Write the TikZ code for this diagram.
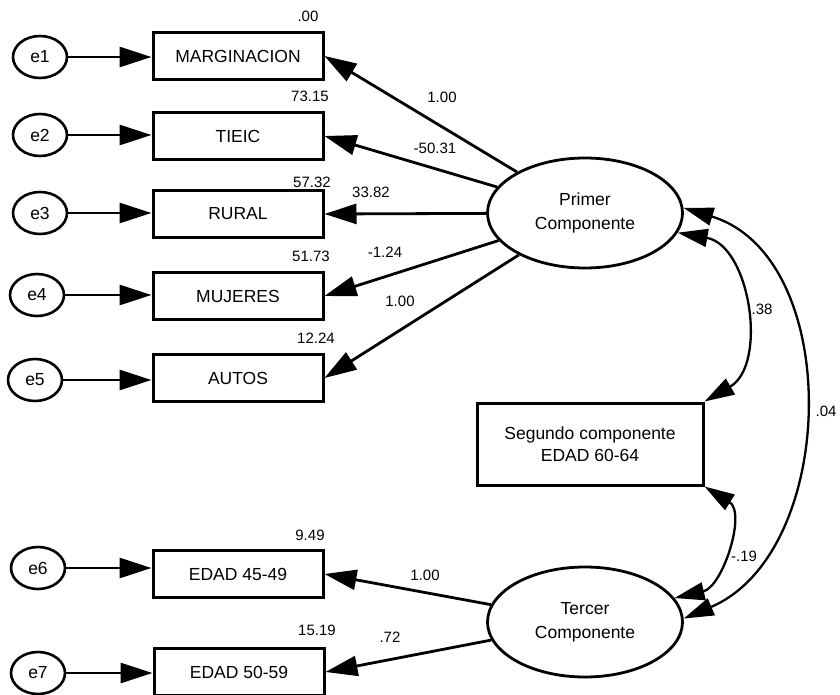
\documentclass[tikz,border=0pt]{standalone}
\usepackage{fontspec}
\setmainfont{Liberation Sans}
\usetikzlibrary{arrows.meta,shapes.geometric}

\begin{document}
\begin{tikzpicture}[x=1pt, y=1pt,
  every node/.style={font=\fontsize{17.5}{22}\selectfont},
  errnode/.style={draw, ellipse, line width=2.6pt, minimum width=54pt, minimum height=42pt, inner sep=0pt},
  obsbox/.style={draw, rectangle, line width=3pt, minimum width=170pt, minimum height=47pt},
  latent/.style={draw, ellipse, line width=2.8pt, minimum width=195pt, minimum height=110pt, align=center, font=\fontsize{17.5}{24}\selectfont},
  coef/.style={font=\fontsize{15}{18}\selectfont},
  load/.style={line width=2.8pt, -{Triangle[length=32pt, width=20pt]}},
  corr/.style={line width=2.3pt, {Triangle[length=30pt, width=18pt]}-{Triangle[length=30pt, width=18pt]}}
]

\useasboundingbox (0,0) rectangle (840,-695);

% Define error terms
\node[errnode] (e1) at (40,-57) {e1};
\node[errnode] (e2) at (40,-135) {e2};
\node[errnode] (e3) at (40,-213) {e3};
\node[errnode] (e4) at (37,-295) {e4};
\node[errnode] (e5) at (35,-380) {e5};
\node[errnode] (e6) at (38,-568) {e6};
\node[errnode] (e7) at (38,-673) {e7};

% Define boxes
\node[obsbox] (marg) at (238,-56) {MARGINACION};
\node[obsbox] (tieic) at (238,-136) {TIEIC};
\node[obsbox] (rural) at (238,-214) {RURAL};
\node[obsbox] (muj) at (238,-296) {MUJERES};
\node[obsbox] (autos) at (238,-378) {AUTOS};
\node[obsbox] (edad1) at (238,-574) {EDAD 45-49};
\node[obsbox] (edad2) at (239,-672) {EDAD 50-59};

% Define components
\node[latent] (primer) at (585,-213) {Primer\\Componente};
\node[obsbox, minimum width=226pt, minimum height=82pt, align=center] (segundo) at (590,-444) {Segundo componente\\EDAD 60-64};
\node[latent] (tercer) at (585,-622) {Tercer\\Componente};

% Draw arrows
\draw[load] (e1) -- (e1 -| marg.west);
\draw[load] (e2) -- (e2 -| tieic.west);
\draw[load] (e3) -- (e3 -| rural.west);
\draw[load] (e4) -- (e4 -| muj.west);
\draw[load] (e5) -- (e5 -| autos.west);
\draw[load] (e6) -- (e6 -| edad1.west);
\draw[load] (e7) -- (e7 -| edad2.west);

\draw[load] (primer) -- (marg.east);
\draw[load] (primer) -- (tieic.east);
\draw[load] (primer) -- (rural.east);
\draw[load] (primer) -- (muj.east);
\draw[load] (primer) -- (autos.east);
\draw[load] (tercer) -- (edad1.east);
\draw[load] (tercer) -- (edad2.east);

% Correlations
\draw[corr] (primer.-12) to[out=-10, in=30, looseness=1.1] (segundo.north east);
\draw[corr] (segundo.south east) to[out=-32, in=13, looseness=1.1] (tercer.15);
\draw[corr] (primer.3) to[out=-17, in=23, looseness=1.05] (tercer.2);

% Values
\node[coef] (vmarg) at (308,-16) {.00};
\node[coef] (vtieic) at (310,-96) {73.15};
\node[coef] (vrural) at (312,-182) {57.32};
\node[coef] (vmuj) at (311,-256) {51.73};
\node[coef] (vautos) at (316,-338) {12.24};
\node[coef] (vedad1) at (310,-535) {9.49};
\node[coef] (vedad2) at (317,-630) {15.19};

\node[coef] (wmarg) at (442,-97) {1.00};
\node[coef] (wtieic) at (435,-148) {-50.31};
\node[coef] (wrural) at (371,-192) {33.82};
\node[coef] (wmuj) at (385,-252) {-1.24};
\node[coef] (wautos) at (400,-301) {1.00};
\node[coef] (wedad1) at (425,-575) {1.00};
\node[coef] (wedad2) at (390,-637) {.72};

\node[coef] (c12) at (762,-309) {.38};
\node[coef] (c13) at (826,-411) {.04};
\node[coef] (c23) at (744,-556) {-.19};

\end{tikzpicture}
\end{document}
